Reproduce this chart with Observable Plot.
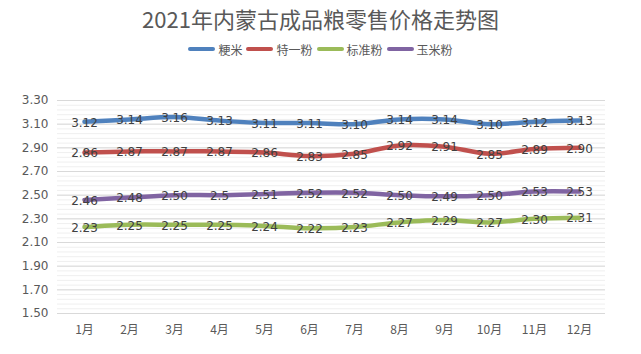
<!DOCTYPE html>
<html><head><meta charset="utf-8">
<script src="https://cdn.jsdelivr.net/npm/d3@7"></script>
<script src="https://cdn.jsdelivr.net/npm/@observablehq/plot@0.6"></script>
<style>
body{margin:0;background:#fff;width:641px;height:354px;overflow:hidden;font-family:"Noto Sans CJK SC","DejaVu Sans",sans-serif;}
#title{height:36px;line-height:36px;text-align:center;font-size:22px;color:#595959;}
#legend{height:26px;display:flex;justify-content:center;align-items:center;font-size:12px;color:#595959;}
.item{display:flex;align-items:center;margin:0 2px;}
.sw{width:27px;height:4px;border-radius:2px;margin-right:3px;}
</style></head>
<body>
<div id="title">2021年内蒙古成品粮零售价格走势图</div>
<div id="legend"></div>
<div id="chart"></div>
<script>
const months = ["1月","2月","3月","4月","5月","6月","7月","8月","9月","10月","11月","12月"];
const seriesNames = ["粳米","特一粉","标准粉","玉米粉"];
const colors = ["#4F81BD","#C0504D","#9BBB59","#8064A2"];
const japonica = ["3.12","3.14","3.16","3.13","3.11","3.11","3.10","3.14","3.14","3.10","3.12","3.13"];
const specialFlour = ["2.86","2.87","2.87","2.87","2.86","2.83","2.85","2.92","2.91","2.85","2.89","2.90"];
const standardFlour = ["2.23","2.25","2.25","2.25","2.24","2.22","2.23","2.27","2.29","2.27","2.30","2.31"];
const cornFlour = ["2.46","2.48","2.50","2.5","2.51","2.52","2.52","2.50","2.49","2.50","2.53","2.53"];
const yTicks = [1.5,1.7,1.9,2.1,2.3,2.5,2.7,2.9,3.1,3.3];
const yMinor = d3.range(1.5, 3.3001, 0.04);

const allSeries = [japonica, specialFlour, standardFlour, cornFlour];
const data = [];
allSeries.forEach((arr, si) => arr.forEach((s, i) => data.push({series: seriesNames[si], month: months[i], value: +s, label: s})));

const legend = document.getElementById("legend");
seriesNames.forEach((n, i) => {
  const d = document.createElement("div"); d.className = "item";
  d.innerHTML = `<span class="sw" style="background:${colors[i]}"></span><span>${n}</span>`;
  legend.appendChild(d);
});

const chart = Plot.plot({
  width: 641, height: 292,
  marginTop: 38, marginBottom: 41, marginLeft: 57, marginRight: 36,
  x: {type: "point", domain: months, padding: 0.5, label: null},
  y: {domain: [1.5, 3.3], label: null},
  color: {domain: seriesNames, range: colors},
  style: {fontFamily: "'DejaVu Sans','Noto Sans CJK SC',sans-serif", fontSize: "12px", color: "#595959"},
  marks: [
    Plot.ruleY(yMinor, {stroke: "#EFEFEF", strokeWidth: 1}),
    Plot.ruleY(yTicks, {stroke: "#D9D9D9", strokeWidth: 1}),
    Plot.axisY(yTicks, {tickSize: 0, tickPadding: 9, tickFormat: d => d.toFixed(2), fontSize: 12, fill: "#595959"}),
    Plot.axisX({tickSize: 0, tickPadding: 12, fontSize: 12, fill: "#595959", fontFamily: "'Noto Sans CJK SC',sans-serif"}),
    Plot.line(data, {x: "month", y: "value", z: "series", stroke: "series", strokeWidth: 4.5, curve: "catmull-rom", strokeLinecap: "round"}),
    Plot.text(data, {x: "month", y: "value", text: "label", fill: "#404040", fontSize: 12, dy: 1})
  ]
});
document.getElementById("chart").appendChild(chart);
</script>
</body></html>
